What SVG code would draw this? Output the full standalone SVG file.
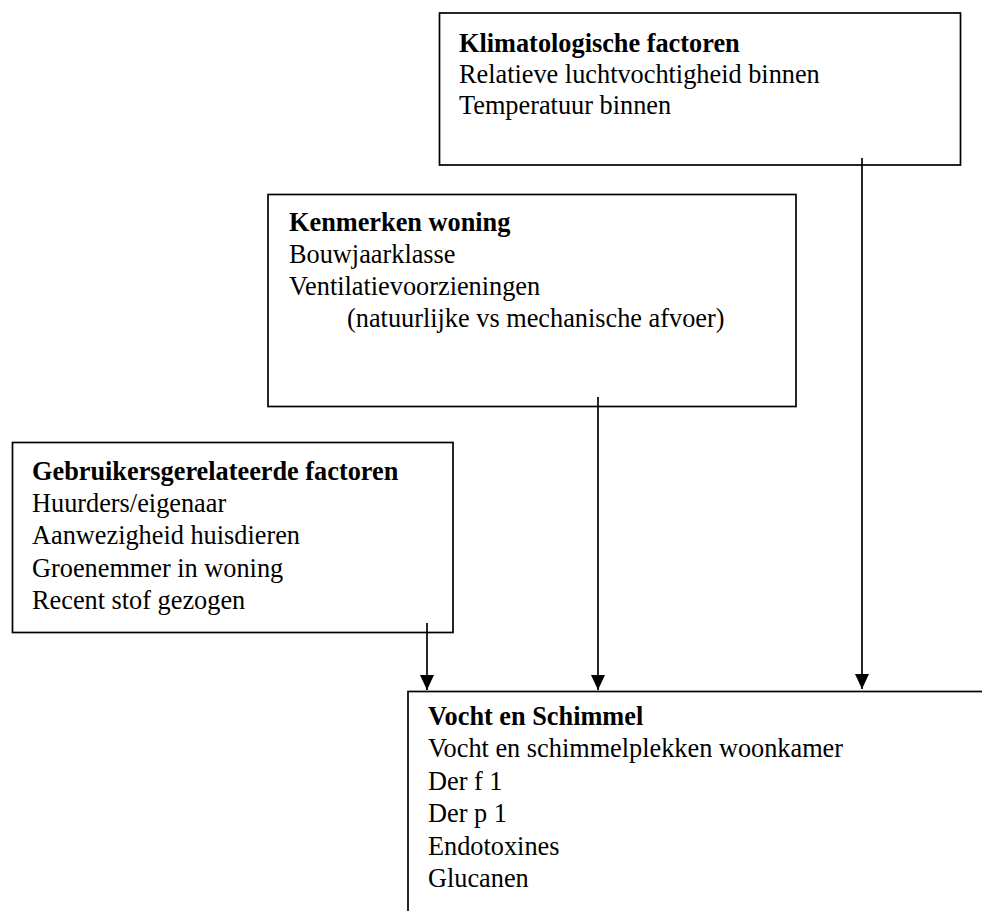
<svg xmlns="http://www.w3.org/2000/svg" width="982" height="911" viewBox="0 0 982 911">
<style>
.box{fill:#fff;stroke:#000;stroke-width:1.7}
text{font-family:"Liberation Serif","Times New Roman",serif;font-size:26.3px;fill:#000}
.h{font-weight:bold}
.c{stroke:#000;stroke-width:1.7;fill:none}
</style>
<defs>
<marker id="ah" markerWidth="15" markerHeight="14" refX="15" refY="7" orient="auto" markerUnits="userSpaceOnUse" viewBox="0 0 15 14">
<path d="M0,0 L15,7 L0,14 Z" fill="#000"/>
</marker>
</defs>
<rect x="0" y="0" width="982" height="911" fill="#fff"/>
<g id="klimaat">
<rect class="box" x="439.5" y="13" width="521" height="152"/>
<text x="459" y="52" class="h">Klimatologische factoren</text>
<text x="459" y="83">Relatieve luchtvochtigheid binnen</text>
<text x="459" y="114">Temperatuur binnen</text>
</g>
<g id="woning">
<rect class="box" x="268" y="194.5" width="528" height="212"/>
<text x="289" y="231" class="h">Kenmerken woning</text>
<text x="289" y="263">Bouwjaarklasse</text>
<text x="289" y="295">Ventilatievoorzieningen</text>
<text x="347" y="327">(natuurlijke vs mechanische afvoer)</text>
</g>
<g id="gebruiker">
<rect class="box" x="12.5" y="442.5" width="440.5" height="190"/>
<text x="32" y="480" class="h">Gebruikersgerelateerde factoren</text>
<text x="32" y="512">Huurders/eigenaar</text>
<text x="32" y="544">Aanwezigheid huisdieren</text>
<text x="32" y="577">Groenemmer in woning</text>
<text x="32" y="609">Recent stof gezogen</text>
</g>
<g id="vocht">
<rect class="box" x="408" y="691.5" width="600" height="240"/>
<text x="428" y="725" class="h">Vocht en Schimmel</text>
<text x="428" y="757">Vocht en schimmelplekken woonkamer</text>
<text x="428" y="790">Der f 1</text>
<text x="428" y="822">Der p 1</text>
<text x="428" y="855">Endotoxines</text>
<text x="428" y="887">Glucanen</text>
</g>
<g id="connectors">
<line class="c" x1="427" y1="623" x2="427" y2="690" marker-end="url(#ah)"/>
<line class="c" x1="598" y1="397" x2="598" y2="690" marker-end="url(#ah)"/>
<line class="c" x1="862" y1="158" x2="862" y2="689" marker-end="url(#ah)"/>
</g>
</svg>
